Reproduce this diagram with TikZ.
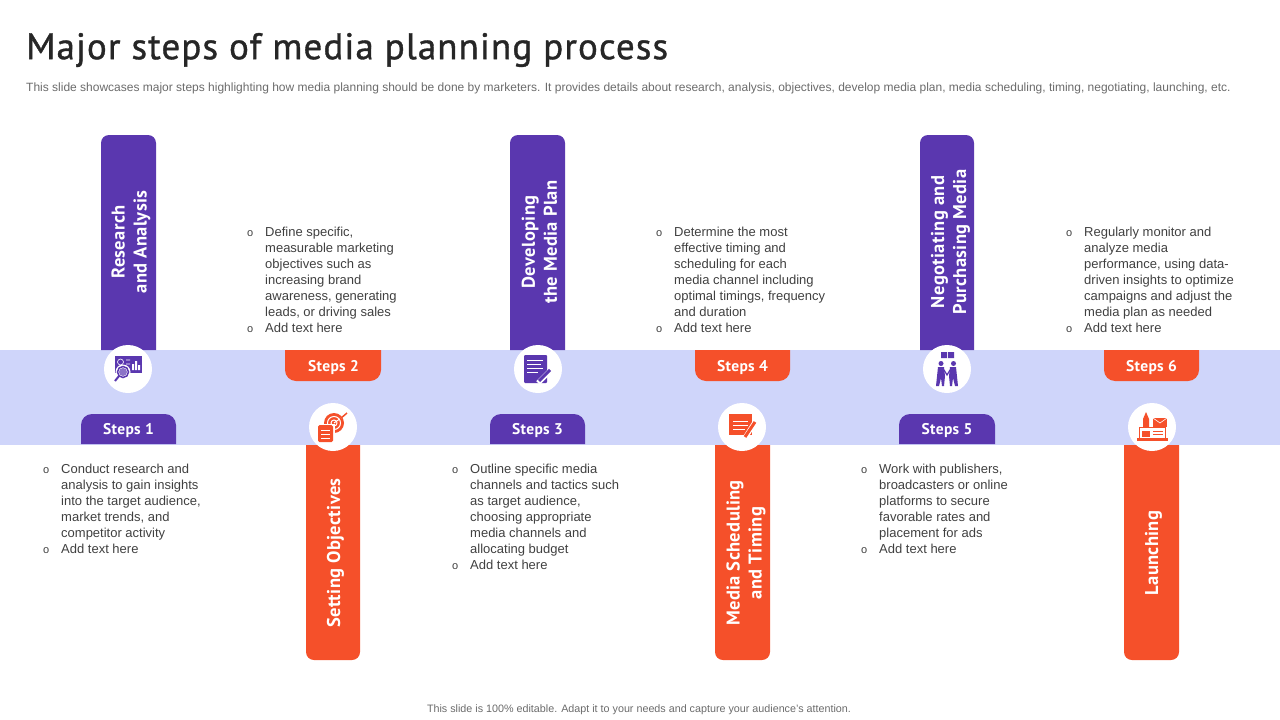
\documentclass[tikz,border=0pt]{standalone}
\usepackage{fontspec}
\usepackage{xcolor}
\setmainfont{Liberation Sans}
\newfontfamily\headfont[LetterSpace=3,FakeBold=1]{PT Sans}
\newfontfamily\labelfont[LetterSpace=2,BoldFont={PT Sans Bold}]{PT Sans}
\usetikzlibrary{positioning}
\definecolor{stepPurple}{HTML}{5A37AF}
\definecolor{stepOrange}{HTML}{F5502A}
\definecolor{bandBlue}{HTML}{CFD5FA}
\definecolor{textDark}{HTML}{262626}
\definecolor{textBody}{HTML}{404040}
\definecolor{textMuted}{HTML}{6B6B6B}
\newcommand{\bulletmark}{\llap{\fontsize{11}{16}\selectfont o\hspace{12pt}}}

\begin{document}
\begin{tikzpicture}[x=1pt,y=-1pt,
    barlabel/.style={rotate=90,text=white,align=center,font=\labelfont\fontsize{18.5}{22}\selectfont\bfseries},
    tablabel/.style={text=white,font=\labelfont\fontsize{15.5}{18}\selectfont\bfseries},
    bodytext/.style={anchor=north west,inner sep=0pt,align=left,text=textBody,font=\fontsize{13}{16}\selectfont},
    iconcircle/.style={circle,fill=white,minimum size=48pt,inner sep=0pt}
]
    \useasboundingbox (0,0) rectangle (1280,720);

    % Title
    \node[anchor=west,inner sep=0pt,text=textDark,font=\headfont\fontsize{37}{40}\selectfont] (title) at (26,50) {Major steps of media planning process};
    \node[anchor=west,inner sep=0pt,text=textMuted,font=\fontsize{12}{14}\selectfont] (subtitle) at (26,88) {This slide showcases major steps highlighting how media planning should be done by marketers. It provides details about research, analysis, objectives, develop media plan, media scheduling, timing, negotiating, launching, etc.};

    % Band
    \fill[bandBlue] (0,350) rectangle (1280,445);

    % Purple bars
    \fill[stepPurple] (101,350) [rounded corners=8pt] -- (101,135) -- (156,135) [sharp corners] -- (156,350) -- cycle;
    \fill[stepPurple] (510,350) [rounded corners=8pt] -- (510,135) -- (565,135) [sharp corners] -- (565,350) -- cycle;
    \fill[stepPurple] (920,350) [rounded corners=8pt] -- (920,135) -- (974,135) [sharp corners] -- (974,350) -- cycle;
    \node[barlabel] (research) at (131,242) {Research\\and Analysis};
    \node[barlabel] (developing) at (539.5,242) {Developing\\the Media Plan};
    \node[barlabel] (negotiating) at (950.5,242) {Negotiating and\\Purchasing Media};

    % Orange bars
    \fill[stepOrange] (306,445) [rounded corners=8pt] -- (306,660) -- (360,660) [sharp corners] -- (360,445) -- cycle;
    \fill[stepOrange] (715,445) [rounded corners=8pt] -- (715,660) -- (770,660) [sharp corners] -- (770,445) -- cycle;
    \fill[stepOrange] (1124,445) [rounded corners=8pt] -- (1124,660) -- (1179,660) [sharp corners] -- (1179,445) -- cycle;
    \node[barlabel] (objectives) at (335.5,553) {Setting Objectives};
    \node[barlabel] (scheduling) at (746,553) {Media Scheduling\\and Timing};
    \node[barlabel] (launching) at (1153.5,553) {Launching};

    % Purple tabs
    \fill[stepPurple] (81,444) [rounded corners=11pt] -- (81,414) -- (176,414) [sharp corners] -- (176,444) -- cycle;
    \fill[stepPurple] (490,444) [rounded corners=11pt] -- (490,414) -- (585,414) [sharp corners] -- (585,444) -- cycle;
    \fill[stepPurple] (899,444) [rounded corners=11pt] -- (899,414) -- (995,414) [sharp corners] -- (995,444) -- cycle;
    \node[tablabel] (stepsone) at (128.5,431) {Steps 1};
    \node[tablabel] (stepsthree) at (537.5,431) {Steps 3};
    \node[tablabel] (stepsfive) at (947,431) {Steps 5};

    % Orange tabs
    \fill[stepOrange] (285,350) [rounded corners=11pt] -- (285,381) -- (381,381) [sharp corners] -- (381,350) -- cycle;
    \fill[stepOrange] (695,350) [rounded corners=11pt] -- (695,381) -- (790,381) [sharp corners] -- (790,350) -- cycle;
    \fill[stepOrange] (1104,350) [rounded corners=11pt] -- (1104,381) -- (1199,381) [sharp corners] -- (1199,350) -- cycle;
    \node[tablabel] (stepstwo) at (333.5,368) {Steps 2};
    \node[tablabel] (stepsfour) at (742.5,368) {Steps 4};
    \node[tablabel] (stepssix) at (1151.5,368) {Steps 6};

    % Icon circles
    \node[iconcircle] (iconone) at (128,369) {};
    \node[iconcircle] (icontwo) at (333,427) {};
    \node[iconcircle] (iconthree) at (538,369) {};
    \node[iconcircle] (iconfour) at (742,427) {};
    \node[iconcircle] (iconfive) at (947,369) {};
    \node[iconcircle] (iconsix) at (1152,427) {};

    % Icon 1: screen and magnifier
    \fill[stepPurple] (115,356) rectangle (142,373);
    \draw[white,line width=.6pt] (120.5,362) circle (3) (126,360) -- (130,360) (126,364) -- (130,364);
    \fill[white] (132,364) rectangle (134,370) (135,361) rectangle (137,370) (138,365) rectangle (140,370);
    \fill[white] (123,372) circle (7.5);
    \fill[stepPurple!70] (123,372) circle (4);
    \draw[stepPurple,line width=1.5pt] (123,372) circle (5.5);
    \draw[stepPurple,line width=2pt] (119,376) -- (115,381);

    % Icon 2: target and list
    \fill[stepOrange] (334,423) circle (10);
    \draw[white,line width=1pt] (334,423) circle (6.5);
    \draw[white,line width=1pt] (334,423) circle (3);
    \draw[white,line width=1pt] (334,423) -- (344,416);
    \draw[stepOrange,line width=1.5pt] (340,419) -- (347,413);
    \fill[white] (316.5,423.5) rectangle (334.5,443);
    \fill[stepOrange,rounded corners=1.5pt] (318,425) rectangle (333,442);
    \draw[white,line width=.8pt] (321,430) -- (330,430) (321,434) -- (330,434) (321,438) -- (330,438);

    % Icon 3: document and pencil
    \fill[stepPurple,rounded corners=1pt] (524,355) rectangle (547,383);
    \draw[white,line width=.7pt] (527,360) -- (543,360) (527,364) -- (541,364) (527,368) -- (543,368) (527,372) -- (538,372);
    \draw[white,line width=5pt] (550,371) -- (538,383);
    \draw[stepPurple,line width=3pt] (550,370) -- (539,381);

    % Icon 4: list and pencil
    \fill[stepOrange] (729,414) rectangle (752,435);
    \draw[white,line width=.7pt] (733,421) -- (748,421) (733,425) -- (748,425) (733,429) -- (745,429);
    \draw[white,line width=5pt] (755,422) -- (745,438);
    \draw[stepOrange,line width=3pt] (755,422) -- (745,437);

    % Icon 5: two people
    \fill[stepPurple] (941,363.5) circle (2.5) (953.5,363.5) circle (2.5);
    \fill[stepPurple] (938,367) -- (944,367) -- (945,376) -- (944,386) -- (942,386) -- (941,378) -- (939,386) -- (936,386) -- cycle;
    \fill[stepPurple] (950,367) -- (956,367) -- (958,386) -- (955,386) -- (953,378) -- (952,386) -- (950,386) -- (949,376) -- cycle;
    \draw[stepPurple,line width=1.2pt] (944,370) -- (947,375) -- (950,370);
    \fill[stepPurple] (941,352) rectangle (947,358) (948,352) rectangle (954,358);

    % Icon 6: rocket, mail and laptop
    \fill[stepOrange] (1146,412) -- (1149,419) -- (1149,427) -- (1143,427) -- (1143,419) -- cycle;
    \fill[stepOrange] (1137,438) rectangle (1168,441);
    \draw[stepOrange,line width=1pt] (1139,438) -- (1139,427.5) -- (1165,427.5) -- (1165,438);
    \fill[stepOrange] (1142,431) rectangle (1150,437);
    \draw[stepOrange,line width=1pt] (1153,431) -- (1163,431) (1153,434) -- (1163,434);
    \fill[stepOrange] (1153,418) rectangle (1167,427);
    \draw[white,line width=.6pt] (1153,418) -- (1160,423) -- (1167,418);

    % Left column text
    \node[bodytext] (textone) at (61,464) {\bulletmark Conduct research and\\analysis to gain insights\\into the target audience,\\market trends, and\\competitor activity\\\bulletmark Add text here};
    \node[bodytext] (textthree) at (470,464) {\bulletmark Outline specific media\\channels and tactics such\\as target audience,\\choosing appropriate\\media channels and\\allocating budget\\\bulletmark Add text here};
    \node[bodytext] (textfive) at (879,464) {\bulletmark Work with publishers,\\broadcasters or online\\platforms to secure\\favorable rates and\\placement for ads\\\bulletmark Add text here};

    % Upper column text
    \node[bodytext] (texttwo) at (265,227) {\bulletmark Define specific,\\measurable marketing\\objectives such as\\increasing brand\\awareness, generating\\leads, or driving sales\\\bulletmark Add text here};
    \node[bodytext] (textfour) at (674,227) {\bulletmark Determine the most\\effective timing and\\scheduling for each\\media channel including\\optimal timings, frequency\\and duration\\\bulletmark Add text here};
    \node[bodytext] (textsix) at (1084,227) {\bulletmark Regularly monitor and\\analyze media\\performance, using data-\\driven insights to optimize\\campaigns and adjust the\\media plan as needed\\\bulletmark Add text here};

    % Footer
    \node[text=textMuted,inner sep=0pt,font=\fontsize{10.75}{12}\selectfont] (footer) at (639,709.5) {This slide is 100\% editable. Adapt it to your needs and capture your audience's attention.};
\end{tikzpicture}
\end{document}
